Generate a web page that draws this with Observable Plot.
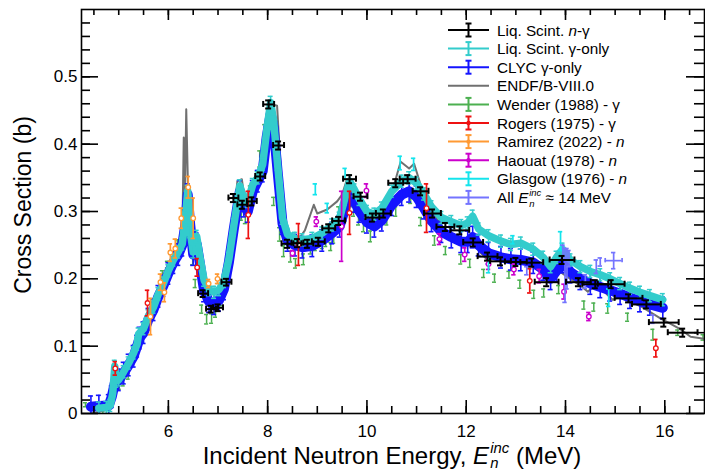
<!DOCTYPE html>
<html>
<head>
<meta charset="utf-8">
<script src="https://cdn.jsdelivr.net/npm/d3@7"></script>
<script src="https://cdn.jsdelivr.net/npm/@observablehq/plot@0.6"></script>
<style>
html,body{margin:0;padding:0;background:#fff;overflow:hidden;}
#chart{position:relative;width:705px;height:470px;}
</style>
</head>
<body>
<div id="chart"></div>
<script>
// ---------------- DATA ----------------
// Liq. Scint. gamma-only  [E (MeV), sigma (b)]
const lsGamma = [[4.6,0.008],[4.75,0.009],[4.83,0.012],[4.88,0.03],[4.92,0.07],[4.95,0.048],[5.0,0.05],[5.1,0.062],[5.2,0.075],[5.3,0.09],[5.37,0.103],[5.4,0.118],[5.5,0.126],[5.6,0.145],[5.7,0.158],[5.8,0.178],[5.9,0.193],[6.0,0.212],[6.1,0.228],[6.2,0.24],[6.28,0.252],[6.34,0.29],[6.39,0.33],[6.44,0.27],[6.5,0.24],[6.57,0.263],[6.63,0.235],[6.72,0.198],[6.82,0.184],[6.92,0.18],[7.02,0.184],[7.12,0.196],[7.22,0.23],[7.32,0.28],[7.44,0.338],[7.52,0.318],[7.6,0.315],[7.7,0.34],[7.8,0.35],[7.9,0.37],[7.98,0.42],[8.06,0.462],[8.12,0.435],[8.2,0.37],[8.3,0.29],[8.4,0.266],[8.55,0.26],[8.7,0.258],[8.9,0.26],[9.1,0.268],[9.3,0.28],[9.45,0.29],[9.55,0.318],[9.65,0.345],[9.75,0.332],[9.85,0.318],[10.0,0.3],[10.15,0.296],[10.3,0.305],[10.5,0.33],[10.7,0.345],[10.85,0.35],[11.0,0.342],[11.15,0.326],[11.3,0.307],[11.5,0.291],[11.7,0.285],[11.9,0.279],[12.03,0.283],[12.13,0.293],[12.25,0.274],[12.45,0.264],[12.7,0.256],[12.9,0.251],[13.1,0.253],[13.35,0.244],[13.55,0.232],[13.7,0.218],[13.82,0.232],[13.94,0.244],[14.1,0.228],[14.3,0.218],[14.5,0.211],[14.7,0.206],[14.9,0.2],[15.1,0.193],[15.3,0.186],[15.5,0.18],[15.7,0.175],[15.96,0.169]];

// CLYC gamma-only
const clycGamma = [[4.44,0.01],[4.6,0.011],[4.8,0.012],[4.86,0.025],[4.92,0.045],[5.0,0.05],[5.1,0.06],[5.2,0.072],[5.3,0.085],[5.37,0.1],[5.42,0.112],[5.5,0.12],[5.6,0.14],[5.7,0.154],[5.8,0.174],[5.9,0.19],[6.0,0.208],[6.1,0.224],[6.2,0.236],[6.28,0.25],[6.34,0.28],[6.39,0.325],[6.44,0.28],[6.5,0.236],[6.57,0.252],[6.63,0.225],[6.72,0.182],[6.82,0.166],[6.92,0.163],[7.02,0.168],[7.12,0.185],[7.22,0.225],[7.32,0.275],[7.44,0.33],[7.52,0.308],[7.6,0.3],[7.7,0.33],[7.8,0.345],[7.9,0.36],[7.98,0.41],[8.06,0.445],[8.12,0.425],[8.2,0.36],[8.3,0.282],[8.4,0.257],[8.55,0.25],[8.7,0.247],[8.9,0.249],[9.1,0.257],[9.3,0.268],[9.45,0.278],[9.55,0.302],[9.65,0.325],[9.75,0.315],[9.85,0.3],[10.0,0.284],[10.15,0.278],[10.3,0.287],[10.5,0.31],[10.7,0.325],[10.85,0.33],[11.0,0.322],[11.15,0.305],[11.3,0.286],[11.5,0.27],[11.7,0.262],[11.9,0.255],[12.03,0.255],[12.13,0.262],[12.25,0.25],[12.45,0.238],[12.7,0.232],[12.9,0.229],[13.1,0.228],[13.35,0.224],[13.55,0.214],[13.7,0.2],[13.82,0.212],[13.94,0.225],[14.1,0.21],[14.3,0.2],[14.5,0.193],[14.7,0.188],[14.9,0.183],[15.1,0.178],[15.3,0.172],[15.5,0.167],[15.7,0.162],[15.96,0.157]];

// ENDF/B-VIII.0
const endf = [[4.45,0.0],[4.75,0.005],[4.85,0.03],[4.93,0.06],[5.0,0.05],[5.2,0.07],[5.38,0.1],[5.42,0.12],[5.6,0.14],[5.8,0.175],[6.0,0.21],[6.2,0.24],[6.28,0.26],[6.31,0.41],[6.335,0.33],[6.36,0.452],[6.4,0.32],[6.45,0.262],[6.5,0.26],[6.56,0.27],[6.65,0.22],[6.8,0.175],[6.95,0.165],[7.1,0.18],[7.2,0.2],[7.3,0.28],[7.39,0.345],[7.48,0.348],[7.55,0.31],[7.65,0.32],[7.8,0.35],[7.95,0.41],[8.05,0.46],[8.19,0.457],[8.3,0.315],[8.4,0.262],[8.6,0.256],[8.75,0.272],[8.93,0.31],[9.0,0.297],[9.2,0.303],[9.4,0.315],[9.5,0.325],[9.6,0.348],[9.7,0.335],[9.85,0.31],[10.0,0.29],[10.2,0.29],[10.4,0.31],[10.52,0.333],[10.68,0.374],[10.85,0.364],[10.95,0.371],[11.08,0.34],[11.3,0.3],[11.6,0.27],[11.9,0.26],[12.1,0.255],[12.3,0.238],[12.45,0.226],[12.6,0.234],[12.9,0.23],[13.2,0.226],[13.5,0.222],[13.75,0.222],[13.9,0.21],[14.1,0.2],[14.3,0.19],[14.45,0.181],[14.6,0.19],[14.75,0.183],[14.95,0.169],[15.11,0.174],[15.3,0.166],[15.52,0.159],[15.7,0.151],[15.92,0.141],[16.1,0.134],[16.32,0.125],[16.52,0.114],[16.8,0.111]];

// Liq. Scint. n-gamma  [E, sigma, xerr, yerr]
const lsNG = [[6.70,0.178,0.1,0.005],[6.86,0.155,0.1,0.005],[7.00,0.157,0.1,0.005],[7.17,0.195,0.1,0.005],[7.31,0.32,0.1,0.006],[7.49,0.31,0.1,0.006],[7.68,0.315,0.1,0.006],[7.85,0.352,0.1,0.006],[8.02,0.459,0.11,0.006],[8.22,0.398,0.11,0.006],[8.40,0.252,0.12,0.006],[8.60,0.253,0.12,0.006],[8.80,0.252,0.12,0.006],[9.02,0.255,0.13,0.006],[9.23,0.275,0.13,0.006],[9.43,0.286,0.13,0.006],[9.65,0.348,0.13,0.006],[9.87,0.322,0.14,0.006],[10.11,0.291,0.14,0.006],[10.33,0.297,0.15,0.006],[10.58,0.342,0.15,0.006],[10.82,0.348,0.16,0.006],[11.08,0.33,0.16,0.006],[11.32,0.297,0.17,0.006],[11.58,0.277,0.18,0.006],[11.87,0.272,0.19,0.006],[12.14,0.254,0.2,0.006],[12.43,0.233,0.2,0.006],[12.69,0.226,0.21,0.006],[13.0,0.225,0.22,0.006],[13.32,0.224,0.23,0.006],[13.62,0.195,0.24,0.006],[13.93,0.228,0.25,0.006],[14.26,0.195,0.25,0.006],[14.6,0.192,0.26,0.006],[14.92,0.192,0.27,0.006],[15.27,0.171,0.28,0.006],[15.63,0.162,0.29,0.006],[15.98,0.135,0.3,0.006],[16.36,0.12,0.3,0.006]];

// Wender (1988) - gamma  [E, sigma, yerr]
const wender = [[4.33,0.013,0.003],[4.5,0.002,0.003],[4.68,0.001,0.003],[5.01,0.04,0.004],[5.09,0.045,0.004],[5.19,0.055,0.004],[5.33,0.097,0.005],[5.88,0.207,0.005],[5.98,0.221,0.005],[6.18,0.253,0.005],[6.34,0.255,0.005],[6.49,0.227,0.006],[6.54,0.193,0.006],[6.67,0.155,0.006],[6.77,0.14,0.007],[6.87,0.141,0.007],[6.95,0.149,0.006],[7.05,0.166,0.006],[7.35,0.31,0.008],[7.47,0.295,0.008],[7.55,0.29,0.008],[7.65,0.33,0.008],[7.84,0.378,0.012],[7.94,0.415,0.014],[8.12,0.315,0.006],[8.24,0.266,0.01],[8.32,0.241,0.008],[8.46,0.233,0.008],[8.56,0.223,0.007],[8.72,0.229,0.008],[8.86,0.244,0.007],[8.96,0.248,0.006],[9.1,0.251,0.006],[9.17,0.254,0.006],[9.27,0.248,0.006],[9.33,0.259,0.006],[9.43,0.30,0.007],[9.67,0.315,0.006],[9.73,0.30,0.007],[9.83,0.288,0.008],[9.93,0.278,0.008],[10.07,0.263,0.008],[10.4,0.288,0.008],[10.58,0.30,0.007],[10.88,0.32,0.008],[11.08,0.285,0.006],[11.36,0.257,0.007],[11.58,0.242,0.006],[11.89,0.229,0.007],[12.07,0.223,0.006],[12.35,0.208,0.006],[12.57,0.201,0.006],[12.86,0.206,0.005],[13.08,0.192,0.006],[13.36,0.177,0.006],[13.56,0.179,0.006],[13.86,0.184,0.006],[14.37,0.161,0.006],[14.57,0.158,0.006],[14.85,0.156,0.007],[15.25,0.143,0.006],[15.76,0.117,0.008],[16.26,0.12,0.004],[16.77,0.113,0.004]];

// Rogers (1975) - gamma
const rogers = [[4.93,0.067,0.01],[5.58,0.164,0.019],[6.58,0.217,0.013],[7.61,0.295,0.035],[8.62,0.251,0.031],[9.65,0.298,0.032],[11.2,0.305,0.036],[13.28,0.197,0.018],[15.82,0.097,0.013]];

// Ramirez (2022) - n
const ramirez = [[5.64,0.144,0.027],[5.84,0.195,0.012],[5.92,0.18,0.014],[6.04,0.239,0.013],[6.14,0.245,0.014],[6.26,0.29,0.015],[6.40,0.336,0.016],[6.50,0.29,0.03],[6.81,0.193,0.006],[6.99,0.2,0.007]];

// Haouat (1978) - n
const haouat = [[8.5,0.238,0.004],[8.98,0.285,0.007],[9.49,0.278,0.052],[9.99,0.331,0.01],[11.46,0.259,0.008],[11.97,0.236,0.01],[12.45,0.222,0.008],[12.96,0.214,0.008],[13.47,0.204,0.01],[13.97,0.181,0.011],[14.47,0.144,0.006]];

// Glasgow (1976) - n
const glasgow = [[8.96,0.333,0.008],[9.2,0.305,0.007],[9.56,0.356,0.008],[10.67,0.372,0.01],[10.94,0.37,0.009],[12.45,0.221,0.012],[12.94,0.258,0.006],[13.9,0.256,0.014],[14.87,0.172,0.013]];

// All E_n^inc ~ 14 MeV  [E, sigma, xerr, yerr]
const all14 = [[13.22,0.212,0,0.006],[13.95,0.24,0,0.01],[13.99,0.205,0,0.04],[14.03,0.215,0,0.03],[14.07,0.23,0,0.012],[14.4,0.196,0,0.01],[14.62,0.218,0,0.01],[14.7,0.225,0,0.006],[14.97,0.227,0.17,0.012],[15.76,0.14,0,0.006]];

// axis ticks
const xLabelTicks = [6, 8, 10, 12, 14, 16];
const yLabelTicks = [0, 0.1, 0.2, 0.3, 0.4, 0.5];
const xMinorTicks = d3.range(4.5, 16.8, 0.5);
const yMinorTicks = d3.range(0.02, 0.6, 0.02);

// ---------------- STYLE ----------------
const FONT = '"Liberation Sans", Arial, Helvetica, sans-serif';
const COL = {ng:"#000000", lsg:"#33cccc", clyc:"#1414ff", endf:"#707070", wender:"#4cb050",
  rogers:"#ee1111", ramirez:"#ff9933", haouat:"#cc00cc", glasgow:"#14e4ec", all14:"#7474ff"};
const W = 705, H = 470, ML = 81, MR = 1, MT = 9, MB = 57;
const FW = W - ML - MR, FH = H - MT - MB;

const pts2 = a => a.map(([e, y]) => ({e, y}));
const pts3 = a => a.map(([e, y, ey]) => ({e, y, ex: 0, ey}));
const pts4 = a => a.map(([e, y, ex, ey]) => ({e, y, ex, ey}));

function errMarks(rows, color, {sw = 1.5, cap = 2.2, marker = null, r = 2.3} = {}) {
  const m = [];
  m.push(Plot.ruleX(rows, {x: "e", y1: d => d.y - d.ey, y2: d => d.y + d.ey, stroke: color, strokeWidth: sw, clip: true}));
  m.push(Plot.ruleY(rows, {y: d => d.y - d.ey, x1: "e", x2: "e", insetLeft: -cap, insetRight: -cap, stroke: color, strokeWidth: sw, clip: true}));
  m.push(Plot.ruleY(rows, {y: d => d.y + d.ey, x1: "e", x2: "e", insetLeft: -cap, insetRight: -cap, stroke: color, strokeWidth: sw, clip: true}));
  const withX = rows.filter(d => d.ex > 0);
  if (withX.length) {
    m.push(Plot.ruleY(withX, {y: "y", x1: d => d.e - d.ex, x2: d => d.e + d.ex, stroke: color, strokeWidth: sw, clip: true}));
    m.push(Plot.ruleX(withX, {x: d => d.e - d.ex, y1: "y", y2: "y", insetTop: -cap, insetBottom: -cap, stroke: color, strokeWidth: sw, clip: true}));
    m.push(Plot.ruleX(withX, {x: d => d.e + d.ex, y1: "y", y2: "y", insetTop: -cap, insetBottom: -cap, stroke: color, strokeWidth: sw, clip: true}));
  }
  if (marker === "open") m.push(Plot.dot(rows, {x: "e", y: "y", r, fill: "white", stroke: color, strokeWidth: 1.3, clip: true}));
  return m;
}

function bandMarks(rows, color, lw, ey, sw) {
  return [
    Plot.line(rows, {x: "e", y: "y", stroke: color, strokeWidth: lw, strokeLinejoin: "round", strokeLinecap: "round", clip: true}),
    Plot.ruleX(rows, {x: "e", y1: d => d.y - ey, y2: d => d.y + ey, stroke: color, strokeWidth: sw, clip: true}),
    Plot.ruleY(rows, {y: d => d.y - ey, x1: "e", x2: "e", insetLeft: -2.5, insetRight: -2.5, stroke: color, strokeWidth: sw, clip: true}),
    Plot.ruleY(rows, {y: d => d.y + ey, x1: "e", x2: "e", insetLeft: -2.5, insetRight: -2.5, stroke: color, strokeWidth: sw, clip: true})
  ];
}

const tickW = 1.6;
const chart = Plot.plot({
  width: W, height: H,
  marginLeft: ML, marginRight: MR, marginTop: MT, marginBottom: MB,
  x: {domain: [4.25, 16.8]},
  y: {domain: [0, 0.6]},
  style: {fontFamily: FONT, fontSize: "17px", background: "white", color: "black"},
  marks: [
    // data
    ...errMarks(pts3(wender), COL.wender, {sw: 1.5, cap: 2}),
    Plot.line(pts2(endf), {x: "e", y: "y", stroke: COL.endf, strokeWidth: 2, clip: true}),
    ...bandMarks(pts2(clycGamma), COL.clyc, 10, 0.016, 1.6),
    ...bandMarks(pts2(lsGamma), COL.lsg, 7.5, 0.009, 1.5),
    ...errMarks(pts3(rogers), COL.rogers, {sw: 1.7, marker: "open"}),
    ...errMarks(pts3(ramirez), COL.ramirez, {sw: 1.7, marker: "open"}),
    ...errMarks(pts3(haouat), COL.haouat, {sw: 1.7, marker: "open"}),
    ...errMarks(pts3(glasgow), COL.glasgow, {sw: 1.7}),
    ...errMarks(pts4(all14), COL.all14, {sw: 1.7}),
    ...errMarks(pts4(lsNG), COL.ng, {sw: 2, cap: 3}),
    // ticks (inside, all four sides)
    Plot.ruleX(xLabelTicks, {x: d => d, insetTop: FH - 13, strokeWidth: tickW}),
    Plot.ruleX(xMinorTicks, {x: d => d, insetTop: FH - 7, strokeWidth: tickW}),
    Plot.ruleX(xLabelTicks, {x: d => d, insetBottom: FH - 11, strokeWidth: tickW}),
    Plot.ruleX(xMinorTicks, {x: d => d, insetBottom: FH - 6, strokeWidth: tickW}),
    Plot.ruleY(yLabelTicks, {y: d => d, insetRight: FW - 17, strokeWidth: tickW}),
    Plot.ruleY(yMinorTicks, {y: d => d, insetRight: FW - 9, strokeWidth: tickW}),
    Plot.ruleY(yLabelTicks, {y: d => d, insetLeft: FW - 18, strokeWidth: tickW}),
    Plot.ruleY(yMinorTicks, {y: d => d, insetLeft: FW - 10, strokeWidth: tickW}),
    Plot.frame({stroke: "black", strokeWidth: 1.6}),
    Plot.axisX({ticks: xLabelTicks, tickSize: 0, tickPadding: 11, label: null, fontSize: 17}),
    Plot.axisY({ticks: yLabelTicks, tickSize: 0, tickPadding: 4, label: null, fontSize: 17, tickFormat: d => String(d)})
  ]
});
document.getElementById("chart").append(chart);

// ---------------- titles & legend (text) ----------------
const svg = d3.select(chart);
const g = svg.append("g").attr("font-family", FONT).attr("fill", "black").attr("text-anchor", "start");

function appendEinc(t, fs, subDrop) {
  t.append("tspan").attr("font-style", "italic").text("E");
  const sup = t.append("tspan").attr("font-style", "italic").attr("font-size", fs * 0.62).attr("dy", -fs * 0.42).attr("dx", fs * 0.05).text("inc");
  const sub = t.append("tspan").attr("font-style", "italic").attr("font-size", fs * 0.62).attr("dy", fs * (0.42 + subDrop)).text("n");
  return {sup, sub, subDrop};
}
function fixEinc(parts, rest, fs) {
  const ws = parts.sup.node().getComputedTextLength();
  const wn = parts.sub.node().getComputedTextLength();
  parts.sub.attr("dx", -ws);
  rest.attr("dy", -fs * parts.subDrop).attr("dx", ws - wn);
}

// x title
{
  const fs = 24;
  const t = g.append("text").attr("x", 0).attr("y", 463.5).attr("font-size", fs);
  t.append("tspan").text("Incident Neutron Energy, ");
  const p = appendEinc(t, fs, 0.18);
  const rest = t.append("tspan").text(" (MeV)");
  fixEinc(p, rest, fs);
  const w = t.node().getBBox().width;
  t.attr("x", 392 - w / 2);
}
// y title
g.append("text").attr("transform", "translate(31,205) rotate(-90)").attr("text-anchor", "middle")
  .attr("font-size", 23).text("Cross Section (b)");

// legend
const legend = [
  {parts: ["Liq. Scint. ", ["i", "n"], "-γ"], color: COL.ng, bar: true},
  {parts: ["Liq. Scint. γ-only"], color: COL.lsg, bar: true},
  {parts: ["CLYC γ-only"], color: COL.clyc, bar: true},
  {parts: ["ENDF/B-VIII.0"], color: COL.endf, bar: false},
  {parts: ["Wender (1988) - γ"], color: COL.wender, bar: true},
  {parts: ["Rogers (1975) - γ"], color: COL.rogers, bar: true, dot: true},
  {parts: ["Ramirez (2022) - ", ["i", "n"]], color: COL.ramirez, bar: true, dot: true},
  {parts: ["Haouat (1978) - ", ["i", "n"]], color: COL.haouat, bar: true, dot: true},
  {parts: ["Glasgow (1976) - ", ["i", "n"]], color: COL.glasgow, bar: true},
  {parts: ["All ", "EINC", " ≈ 14 MeV"], color: COL.all14, bar: true}
];
const lfs = 15.3;
legend.forEach((it, i) => {
  const cy = 30 + i * 18.6;
  const lg = g.append("g");
  lg.append("line").attr("x1", 448).attr("x2", 489).attr("y1", cy).attr("y2", cy).attr("stroke", it.color).attr("stroke-width", 2);
  if (it.bar) {
    lg.append("line").attr("x1", 468.5).attr("x2", 468.5).attr("y1", cy - 6.5).attr("y2", cy + 6.5).attr("stroke", it.color).attr("stroke-width", 2);
    lg.append("line").attr("x1", 465.5).attr("x2", 471.5).attr("y1", cy - 6.5).attr("y2", cy - 6.5).attr("stroke", it.color).attr("stroke-width", 2);
    lg.append("line").attr("x1", 465.5).attr("x2", 471.5).attr("y1", cy + 6.5).attr("y2", cy + 6.5).attr("stroke", it.color).attr("stroke-width", 2);
  }
  if (it.dot) lg.append("circle").attr("cx", 468.5).attr("cy", cy).attr("r", 2.2).attr("fill", it.color);
  const t = lg.append("text").attr("x", 497).attr("y", cy + 5.5).attr("font-size", lfs).attr("text-anchor", "start");
  let ep = null;
  it.parts.forEach(p => {
    if (Array.isArray(p)) t.append("tspan").attr("font-style", "italic").text(p[1]);
    else if (p === "EINC") ep = appendEinc(t, lfs, 0.28);
    else {
      const ts = t.append("tspan").text(p);
      if (ep) { fixEinc(ep, ts, lfs); ep = null; }
    }
  });
});
</script>
</body>
</html>
